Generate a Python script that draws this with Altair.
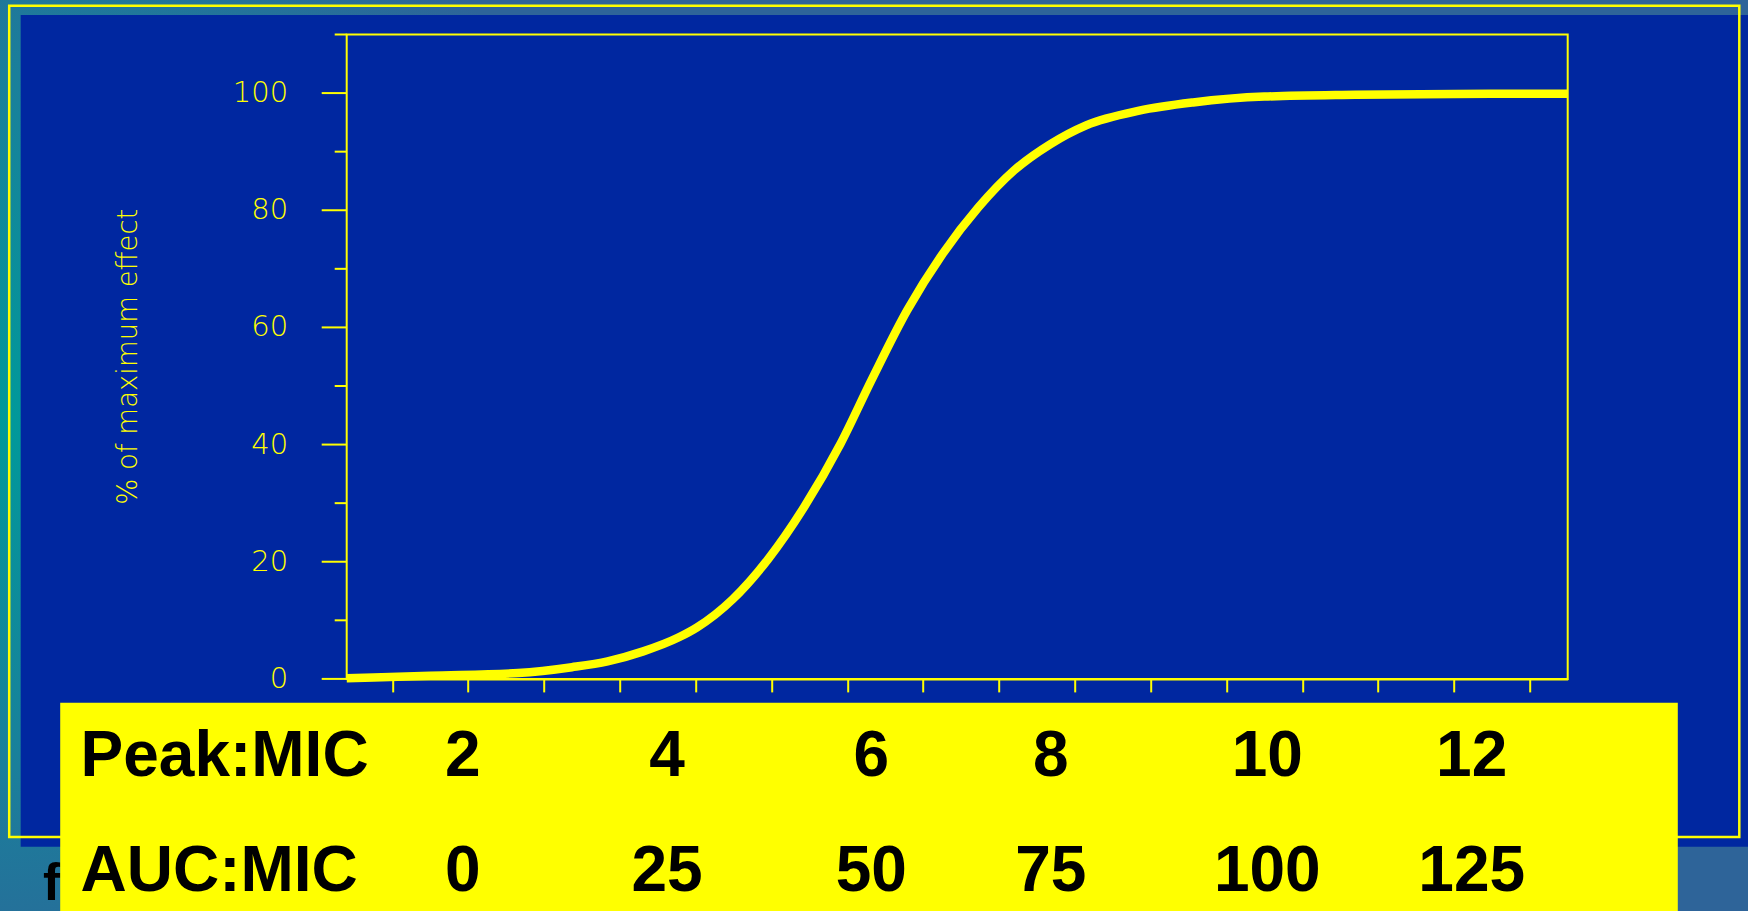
import altair as alt
import pandas as pd

# Concentration–effect curve (x in axis tick units, y in % of maximum effect)
effect_x = [0.4, 1.5, 2.66, 3.37, 3.84, 4.31, 4.78, 5.02, 5.49, 5.96, 6.43, 6.91,
            7.32, 7.79, 8.26, 8.73, 9.20, 9.68, 10.15, 10.85, 11.56, 12.5, 13.7,
            15.0, 16.5]
effect_y = [0.1, 0.55, 1.0, 2.0, 3.0, 4.7, 7.1, 8.8, 13.6, 20.5, 29.3, 40.1,
            51.0, 62.9, 72.6, 80.5, 86.8, 91.3, 94.5, 97.0, 98.4, 99.4, 99.7,
            99.85, 99.9]

y_major = [0, 20, 40, 60, 80, 100]
y_minor = [10, 30, 50, 70, 90, 110]
x_ticks = list(range(1, 17))
y_title = "% of maximum effect"

row_names = ["Peak:MIC", "AUC:MIC"]
peak_mic = [2, 4, 6, 8, 10, 12]
auc_mic = [0, 25, 50, 75, 100, 125]

# ---- layout (slide pixels) ----
SLIDE_W, SLIDE_H = 1748, 911
LEFT, TOP = 346.7, 34.5
PLOT_W, PLOT_H = 1221, 644.4
YELLOW = "#FFFF00"
PANEL = "#0027A0"


def px(x):
    return x - LEFT


def py(y):
    return y - TOP


one = pd.DataFrame({"k": [0]})
curve_df = pd.DataFrame({"x": effect_x, "y": effect_y})
minor_df = pd.DataFrame({"v": y_minor})
major_df = pd.DataFrame({"v": y_major, "lab": [str(v) for v in y_major]})

x_scale = alt.Scale(domain=[0.4, 16.5], nice=False, zero=False)
y_scale = alt.Scale(domain=[0, 110], nice=False, zero=False)

slide_bg = alt.Chart(one).mark_rect(
    fill=alt.RadialGradient(
        gradient="radial",
        stops=[alt.GradientStop(color="#00999A", offset=0),
               alt.GradientStop(color="#1A7F9B", offset=0.55),
               alt.GradientStop(color="#2E6499", offset=1)],
        x1=0, y1=0.48, r1=0, x2=0, y2=0.48, r2=0.36,
    )
).encode(x=alt.value(px(0)), x2=alt.value(px(SLIDE_W)),
         y=alt.value(py(0)), y2=alt.value(py(SLIDE_H)))

panel = alt.Chart(one).mark_rect(fill=PANEL).encode(
    x=alt.value(px(20.7)), x2=alt.value(px(SLIDE_W)),
    y=alt.value(py(15)), y2=alt.value(py(846.7)))

outer_frame = alt.Chart(one).mark_rect(
    fillOpacity=0, stroke=YELLOW, strokeWidth=2.5
).encode(x=alt.value(px(9.2)), x2=alt.value(px(1739.3)),
         y=alt.value(py(5.8)), y2=alt.value(py(837)))

plot_frame = alt.Chart(one).mark_rect(
    fillOpacity=0, stroke=YELLOW, strokeWidth=2
).encode(x=alt.value(0), x2=alt.value(PLOT_W), y=alt.value(0), y2=alt.value(PLOT_H))

# y axis drawn from the tick tables: long ticks with labels, short ticks between
major_ticks = alt.Chart(major_df).mark_rule(color=YELLOW, strokeWidth=2).encode(
    y=alt.Y("v:Q", scale=y_scale, axis=None),
    x=alt.value(-25), x2=alt.value(0))

minor_ticks = alt.Chart(minor_df).mark_rule(color=YELLOW, strokeWidth=2).encode(
    y=alt.Y("v:Q", scale=y_scale, axis=None),
    x=alt.value(-12), x2=alt.value(0))

tick_labels = alt.Chart(major_df).mark_text(
    color=YELLOW, font="DejaVu Sans", fontSize=29, fontWeight=200,
    align="right", baseline="middle"
).encode(y=alt.Y("v:Q", scale=y_scale, axis=None),
         x=alt.value(px(288.2)), text="lab:N")

axis_title = alt.Chart(one).mark_text(
    text=y_title, color=YELLOW, font="DejaVu Sans", fontWeight=200,
    fontSize=27.5, angle=270, align="center", baseline="alphabetic"
).encode(x=alt.value(px(137)), y=alt.value(PLOT_H / 2))

curve = alt.Chart(curve_df).mark_line(
    color=YELLOW, strokeWidth=8.5, interpolate="monotone"
).encode(
    x=alt.X("x:Q", scale=x_scale,
            axis=alt.Axis(values=x_ticks, labels=False, title=None, grid=False,
                          tickSize=13, tickWidth=2, tickColor=YELLOW,
                          domainColor=YELLOW, domainWidth=2, zindex=1)),
    y=alt.Y("y:Q", scale=y_scale, axis=None),
)

plot_group = alt.layer(slide_bg, panel, outer_frame, plot_frame,
                       major_ticks, minor_ticks, tick_labels, axis_title, curve)

# ---- yellow ratio table ----
header_df = pd.DataFrame({"row": row_names, "col": [0, 0], "txt": row_names})
num_rows = []
for i, (p, a) in enumerate(zip(peak_mic, auc_mic)):
    num_rows.append({"row": "Peak:MIC", "col": i + 1, "txt": str(p)})
    num_rows.append({"row": "AUC:MIC", "col": i + 1, "txt": str(a)})
num_df = pd.DataFrame(num_rows)

col_scale = alt.Scale(
    domain=[0, 1, 2, 3, 4, 5, 6],
    range=[px(80.5), px(462.7), px(667), px(871.3), px(1050.8), px(1267.3), px(1471.7)],
    nice=False, zero=False)
row_scale = alt.Scale(type="point", domain=row_names,
                      range=[py(776), py(890.5)], padding=0)

hidden_word = alt.Chart(one).mark_text(
    text="f", font="Liberation Sans", fontWeight="bold", fontSize=52,
    color="black", align="left", baseline="alphabetic"
).encode(x=alt.value(px(43)), y=alt.value(py(900)))

table_box = alt.Chart(one).mark_rect(fill=YELLOW).encode(
    x=alt.value(px(60.2)), x2=alt.value(px(1677.8)),
    y=alt.value(py(702.7)), y2=alt.value(py(SLIDE_H)))

headers = alt.Chart(header_df).mark_text(
    font="Liberation Sans", fontWeight="bold", fontSize=64, color="black",
    align="left", baseline="alphabetic"
).encode(x=alt.X("col:Q", scale=col_scale, axis=None),
         y=alt.Y("row:N", scale=row_scale, axis=None),
         text="txt:N")

numbers = alt.Chart(num_df).mark_text(
    font="Liberation Sans", fontWeight="bold", fontSize=64, color="black",
    align="center", baseline="alphabetic"
).encode(x=alt.X("col:Q", scale=col_scale, axis=None),
         y=alt.Y("row:N", scale=row_scale, axis=None),
         text="txt:N")

table_group = alt.layer(hidden_word, table_box, headers, numbers)

chart = alt.layer(plot_group, table_group).resolve_scale(
    x="independent", y="independent"
).properties(
    width=PLOT_W, height=PLOT_H,
    autosize=alt.AutoSizeParams(type="none"),
    padding={"left": LEFT, "top": TOP,
             "right": SLIDE_W - LEFT - PLOT_W, "bottom": SLIDE_H - TOP - PLOT_H},
    background="#2E6699",
).configure_view(stroke=None)

chart.save("out.html", embed_options={"renderer": "svg", "actions": False})
